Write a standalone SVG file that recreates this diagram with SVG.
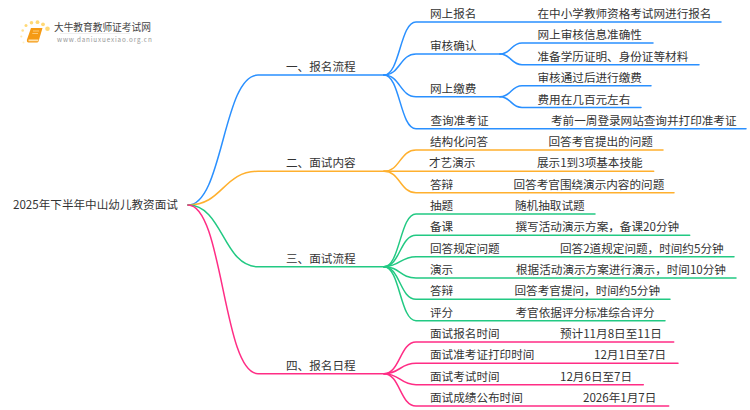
<svg xmlns="http://www.w3.org/2000/svg" width="750" height="410" viewBox="0 0 750 410">
<style>
text{font-family:"Noto Sans CJK SC","Noto Sans",sans-serif;font-size:11.6px;fill:#333}
#connectors path{fill:none;stroke-width:1.5;stroke-linecap:round}
.b{stroke:#2a90ff}.o{stroke:#ffb02e}.g{stroke:#22c983}.p{stroke:#ff2d85}
.dot{fill:#ffd976}
</style>
<rect width="750" height="410" fill="#fff"/>
<g id="logo">
<circle class="dot" cx="47.500" cy="28.700" r="2.300"/><circle class="dot" cx="43" cy="24.300" r="1.900"/><circle class="dot" cx="37.500" cy="22.200" r="1.900"/><circle class="dot" cx="31.500" cy="22.700" r="1.800"/><circle class="dot" cx="26" cy="25.500" r="1.500"/><circle class="dot" cx="22.700" cy="30.500" r="1.300" opacity=".8"/><circle class="dot" cx="21.300" cy="36.500" r="1.100" opacity=".6"/><circle class="dot" cx="23.500" cy="42.500" r="1" opacity=".4"/>
<path d="M31,28H42.500L38.500,41.500Q38,42.500 37,42.500H28.500Q26.500,42.500 27,39.500Z" fill="#f59a14"/>
<path d="M28.500,39.500H38.500L38,41.300H28.500Z" fill="#ffe2ad"/>
<path d="M33,31H39M32.300,33.500H38" stroke="#ffd58c" stroke-width=".8" fill="none"/>
<text x="54" y="31" style="font-size:9.700px;fill:#444">大牛教育教师证考试网</text>
<path d="M60,33.500H130" stroke="#e8e8e8" stroke-width=".7"/>
<text x="57" y="41.500" style="font-size:6.300px;letter-spacing:.85px;fill:#999">www.daniuxuexiao.org.cn</text>
</g>
<g id="connectors">
<path class="b" d="M188,205C223,205 223,75 258,75H384"/>
<path class="o" d="M188,205C223,205 223,171.300 258,171.300H384"/>
<path class="g" d="M188,205C223,205 223,266.700 258,266.700H384"/>
<path class="p" d="M188,205C223,205 223,373.700 258,373.700H384"/>
<path class="b" d="M384,75C400,75 400,22 416,22H721"/>
<path class="b" d="M384,75C400,75 400,54 416,54H500"/>
<path class="b" d="M500,54C511,54 511,43 522,43H653"/>
<path class="b" d="M500,54C511,54 511,64.700 522,64.700H699"/>
<path class="b" d="M384,75C400,75 400,96.700 416,96.700H500"/>
<path class="b" d="M500,96.700C511,96.700 511,85.700 522,85.700H651"/>
<path class="b" d="M500,96.700C511,96.700 511,107.500 522,107.500H641"/>
<path class="b" d="M384,75C400,75 400,128.700 416,128.700H746"/>
<path class="o" d="M384,171.300C400,171.300 400,150 416,150H663"/>
<path class="o" d="M384,171.300H653.700"/>
<path class="o" d="M384,171.300C400,171.300 400,192.700 416,192.700H674"/>
<path class="g" d="M384,266.700C400,266.700 400,214 416,214H595"/>
<path class="g" d="M384,266.700C400,266.700 400,235.300 416,235.300H689.700"/>
<path class="g" d="M384,266.700C400,266.700 400,256.700 416,256.700H734"/>
<path class="g" d="M384,266.700C400,266.700 400,278 416,278H736"/>
<path class="g" d="M384,266.700C400,266.700 400,299.300 416,299.300H670"/>
<path class="g" d="M384,266.700C400,266.700 400,320.700 416,320.700H665"/>
<path class="p" d="M384,373.700C400,373.700 400,342 416,342H673.700"/>
<path class="p" d="M384,373.700C400,373.700 400,363.300 416,363.300H678"/>
<path class="p" d="M384,373.700C400,373.700 400,384.700 416,384.700H643.300"/>
<path class="p" d="M384,373.700C400,373.700 400,406 416,406H668.700"/>
</g>
<g id="root"><text x="13" y="209">2025年下半年中山幼儿教资面试</text></g>
<g id="b1"><text x="286" y="71">一、报名流程</text></g>
<g id="b2"><text x="286" y="167">二、面试内容</text></g>
<g id="b3"><text x="286" y="262.500">三、面试流程</text></g>
<g id="b4"><text x="286" y="369.500">四、报名日程</text></g>
<g id="n1"><text x="430" y="18">网上报名</text></g>
<g id="n1v"><text x="537.500" y="18">在中小学教师资格考试网进行报名</text></g>
<g id="n2"><text x="430" y="50">审核确认</text></g>
<g id="n2a"><text x="537.500" y="39">网上审核信息准确性</text></g>
<g id="n2b"><text x="537.500" y="60.500">准备学历证明、身份证等材料</text></g>
<g id="n3"><text x="430" y="92.500">网上缴费</text></g>
<g id="n3a"><text x="537.500" y="81.500">审核通过后进行缴费</text></g>
<g id="n3b"><text x="537.500" y="103.500">费用在几百元左右</text></g>
<g id="n4"><text x="430.500" y="124.500">查询准考证</text></g>
<g id="n4v"><text x="551" y="124.500">考前一周登录网站查询并打印准考证</text></g>
<g id="o1"><text x="430" y="146">结构化问答</text></g>
<g id="o1v"><text x="548.500" y="146">回答考官提出的问题</text></g>
<g id="o2"><text x="429" y="167">才艺演示</text></g>
<g id="o2v"><text x="537" y="167">展示1到3项基本技能</text></g>
<g id="o3"><text x="430" y="188.500">答辩</text></g>
<g id="o3v"><text x="513.500" y="188.500">回答考官围绕演示内容的问题</text></g>
<g id="g1"><text x="430" y="210">抽题</text></g>
<g id="g1v"><text x="515" y="210">随机抽取试题</text></g>
<g id="g2"><text x="430" y="231">备课</text></g>
<g id="g2v"><text x="515.500" y="231">撰写活动演示方案，备课20分钟</text></g>
<g id="g3"><text x="430" y="252.500">回答规定问题</text></g>
<g id="g3v"><text x="560" y="252.500">回答2道规定问题，时间约5分钟</text></g>
<g id="g4"><text x="430" y="274">演示</text></g>
<g id="g4v"><text x="516" y="274">根据活动演示方案进行演示，时间10分钟</text></g>
<g id="g5"><text x="430" y="295">答辩</text></g>
<g id="g5v"><text x="514.500" y="295">回答考官提问，时间约5分钟</text></g>
<g id="g6"><text x="430" y="316.500">评分</text></g>
<g id="g6v"><text x="515.500" y="316.500">考官依据评分标准综合评分</text></g>
<g id="p1"><text x="430" y="338">面试报名时间</text></g>
<g id="p1v"><text x="560" y="338">预计11月8日至11日</text></g>
<g id="p2"><text x="430" y="359">面试准考证打印时间</text></g>
<g id="p2v"><text x="594" y="359">12月1日至7日</text></g>
<g id="p3"><text x="430" y="380.500">面试考试时间</text></g>
<g id="p3v"><text x="560" y="380.500">12月6日至7日</text></g>
<g id="p4"><text x="430" y="402">面试成绩公布时间</text></g>
<g id="p4v"><text x="583" y="402">2026年1月7日</text></g>
</svg>
